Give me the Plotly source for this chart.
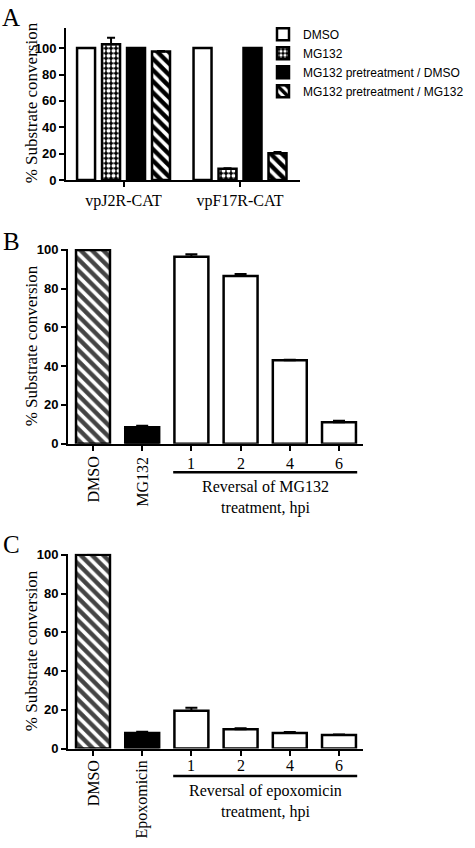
import plotly.graph_objects as go

W, H = 475, 848

# ---------------- data ----------------
# Panel A
a_groups = ["vpJ2R-CAT", "vpF17R-CAT"]
a_names = ["DMSO", "MG132", "MG132 pretreatment / DMSO", "MG132 pretreatment / MG132"]
a_dmso = [100, 100]
a_mg132 = [103, 8.5]
a_pre_dmso = [100, 100]
a_pre_mg132 = [97.5, 20.3]
a_err_dmso = [0, 0]
a_err_mg132 = [4.8, 0.4]
a_err_pre_dmso = [0, 0]
a_err_pre_mg132 = [0.4, 1.0]

# Panel B
b_cats = ["DMSO", "MG132", "1", "2", "4", "6"]
b_vals = [100, 8.5, 96.5, 86.5, 43, 11]
b_err = [0, 0.8, 1.2, 1.0, 0.3, 0.8]
b_group_label = "Reversal of MG132<br>treatment, hpi"

# Panel C
c_cats = ["DMSO", "Epoxomicin", "1", "2", "4", "6"]
c_vals = [100, 8, 19.5, 10, 8, 7]
c_err = [0, 0.7, 1.6, 0.5, 0.5, 0.3]
c_group_label = "Reversal of epoxomicin<br>treatment, hpi"

y_ticks = [0, 20, 40, 60, 80, 100]
panel_letters = ["A", "B", "C"]
y_title = "% Substrate conversion"

# ---------------- helpers ----------------
def px(x):
    return x / W

def py(y):
    return 1 - y / H

SERIF = "Liberation Serif"
SANS = "Liberation Sans"

fig = go.Figure()

outline = dict(color="black", width=2.5)
hatch = dict(shape="\\", fgcolor="black", bgcolor="white", fgopacity=1, size=8, solidity=0.55)
a_styles = [
    dict(color="white", line=outline),
    dict(color="black", line=outline,
         pattern=dict(shape=".", fgcolor="white", bgcolor="black", fgopacity=1, size=5, solidity=0.5)),
    dict(color="black", line=outline),
    dict(color="white", line=outline, pattern=hatch),
]
a_vals = [a_dmso, a_mg132, a_pre_dmso, a_pre_mg132]
a_errs = [a_err_dmso, a_err_mg132, a_err_pre_dmso, a_err_pre_mg132]


def err(arr, w):
    return dict(type="data", symmetric=False, array=arr, arrayminus=[0] * len(arr),
                color="black", thickness=2, width=w)


for name, vals, errs, st in zip(a_names, a_vals, a_errs, a_styles):
    fig.add_trace(go.Bar(x=a_groups, y=vals, name=name, marker=st, error_y=err(errs, 4),
                         xaxis="x", yaxis="y", showlegend=True))


def single_panel_marker():
    fills = ["white", "black", "white", "white", "white", "white"]
    return dict(
        color=fills,
        line=outline,
        pattern=dict(shape=["\\", "", "", "", "", ""], fgcolor="black", fgopacity=1,
                     bgcolor=fills, size=8, solidity=0.55),
    )


fig.add_trace(go.Bar(x=b_cats, y=b_vals, width=0.69, marker=single_panel_marker(),
                     error_y=err(b_err, 6), xaxis="x2", yaxis="y2", showlegend=False))
fig.add_trace(go.Bar(x=c_cats, y=c_vals, width=0.69, marker=single_panel_marker(),
                     error_y=err(c_err, 6), xaxis="x3", yaxis="y3", showlegend=False))

axis_common = dict(showline=True, linewidth=2, linecolor="black", ticks="outside",
                   ticklen=5, tickwidth=2, tickcolor="black", showgrid=False, zeroline=False)
ytick_font = dict(family=SANS, size=13, color="black")
y_ticktext = ["<b>%d</b>" % v for v in y_ticks]

fig.update_layout(
    width=W, height=H,
    margin=dict(l=0, r=0, t=0, b=0),
    paper_bgcolor="white", plot_bgcolor="white",
    barmode="group", bargap=0.142, bargroupgap=0.28,
    xaxis=dict(type="category", domain=[px(66), px(300)], anchor="y", range=[-0.494, 1.515],
               tickfont=dict(family=SERIF, size=16, color="black"), **axis_common),
    yaxis=dict(domain=[py(177), py(22.7)], anchor="x", range=[0, 115], tickvals=y_ticks,
               ticktext=y_ticktext, tickfont=ytick_font, **axis_common),
    xaxis2=dict(type="category", domain=[px(68), px(363)], anchor="y2", range=[-0.508, 5.488],
                showticklabels=False, **axis_common),
    yaxis2=dict(domain=[py(445), py(247)], anchor="x2", range=[0, 100.5], tickvals=y_ticks,
                ticktext=y_ticktext, tickfont=ytick_font, **axis_common),
    xaxis3=dict(type="category", domain=[px(68), px(363)], anchor="y3", range=[-0.508, 5.488],
                showticklabels=False, **axis_common),
    yaxis3=dict(domain=[py(755), py(557)], anchor="x3", range=[0, 100.5], tickvals=y_ticks,
                ticktext=y_ticktext, tickfont=ytick_font, **axis_common),
    legend=dict(x=px(263), y=py(14), xanchor="left", yanchor="top",
                font=dict(family=SANS, size=12, color="black"),
                bgcolor="rgba(0,0,0,0)", tracegroupgap=0),
    showlegend=True,
)

ann = []
# panel letters
for letter, (lx, ly) in zip(panel_letters, [(11, 12), (11, 239), (11, 548)]):
    ann.append(dict(text=letter, x=px(lx), y=py(ly), xref="paper", yref="paper",
                    showarrow=False, xanchor="center", yanchor="middle",
                    font=dict(family=SERIF, size=25, color="black")))
# y titles
for cy in [99, 346, 656]:
    ann.append(dict(text=y_title, x=px(31), y=py(cy), xref="paper", yref="paper",
                    textangle=-90, showarrow=False, xanchor="center", yanchor="middle",
                    font=dict(family=SERIF, size=17, color="black")))


# category labels for B and C (placed at the category index of each bar)
def cat_labels(cats, xref, top_rot, num_y, grp_top, grp_label):
    out = []
    for i, c in enumerate(cats):
        if i < 2:
            out.append(dict(text=c, x=i, y=py(top_rot), xref=xref, yref="paper", textangle=-90,
                            showarrow=False, xanchor="center", yanchor="top",
                            font=dict(family=SERIF, size=16, color="black")))
        else:
            out.append(dict(text=c, x=i, y=py(num_y), xref=xref, yref="paper",
                            showarrow=False, xanchor="center", yanchor="middle",
                            font=dict(family=SERIF, size=16, color="black")))
    out.append(dict(text=grp_label, x=3.5, y=py(grp_top), xref=xref, yref="paper",
                    showarrow=False, xanchor="center", yanchor="top",
                    font=dict(family=SERIF, size=16, color="black")))
    return out


ann += cat_labels(b_cats, "x2", 456, 465, 478, b_group_label)
ann += cat_labels(c_cats, "x3", 765, 772, 787, c_group_label)

fig.update_layout(annotations=ann)

for xref, ly in [("x2", 474), ("x3", 783)]:
    fig.add_shape(type="line", xref=xref, yref="paper", x0=1.63, x1=5.37,
                  y0=py(ly), y1=py(ly), line=dict(color="black", width=2.5))

# remove the browser's default 8px page margin so the figure fills the window
fig.write_html("out.html",
               config={"displayModeBar": False},
               post_script="document.body.style.margin='0px';document.body.style.padding='0px';")
